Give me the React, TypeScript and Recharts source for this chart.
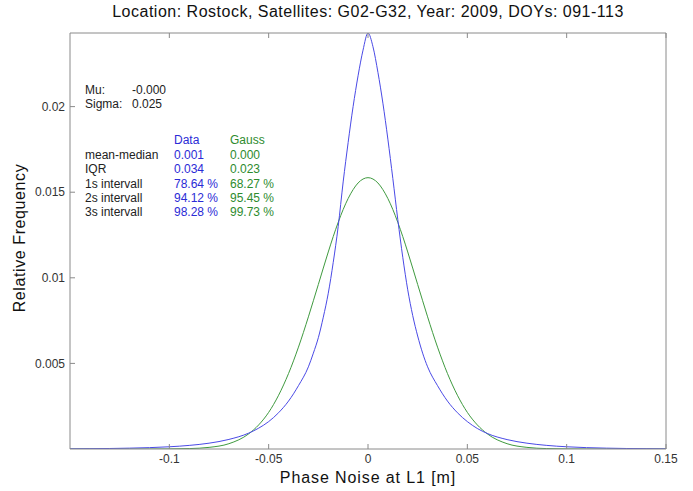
import React from "react";
import { LineChart, Line, XAxis, YAxis } from "recharts";

const xs = [
  -0.15, -0.14, -0.13, -0.12, -0.11, -0.1, -0.09, -0.08, -0.07, -0.06, -0.055,
  -0.05, -0.045, -0.04, -0.035, -0.03, -0.0275, -0.025, -0.0225, -0.02, -0.0175,
  -0.015, -0.0125, -0.01, -0.0075, -0.005, -0.0025, 0, 0.0025, 0.005, 0.0075, 0.01,
  0.0125, 0.015, 0.0175, 0.02, 0.0225, 0.025, 0.0275, 0.03, 0.035, 0.04, 0.045,
  0.05, 0.055, 0.06, 0.07, 0.08, 0.09, 0.1, 0.11, 0.12, 0.13, 0.14, 0.15,
];

const dataFreq = [
  0.00001, 0.00002, 0.00003, 0.00005, 0.00008, 0.00013, 0.00021, 0.00034, 0.00056,
  0.00093, 0.00122, 0.0016, 0.00212, 0.0028, 0.0037, 0.0048, 0.0056, 0.0065, 0.0077,
  0.0091, 0.0109, 0.013, 0.0156, 0.0179, 0.02, 0.0218, 0.0233, 0.0243, 0.0235,
  0.022, 0.0202, 0.0181, 0.0158, 0.0134, 0.0112, 0.0093, 0.0078, 0.0066, 0.0056,
  0.0048, 0.0037, 0.0028, 0.00212, 0.0016, 0.0012, 0.00091, 0.00055, 0.00034,
  0.00021, 0.00013, 0.00008, 0.00005, 0.00003, 0.00002, 0.00001,
];

const gaussFreq = [
  0, 0, 0, 0, 0, 0.000005, 0.000024, 0.000095, 0.00031, 0.00089, 0.00141, 0.00214,
  0.00314, 0.00441, 0.00595, 0.00772, 0.00866, 0.00961, 0.01057, 0.01151, 0.01241,
  0.01324, 0.01399, 0.01463, 0.01515, 0.01554, 0.01577, 0.01585, 0.01577, 0.01554,
  0.01515, 0.01463, 0.01399, 0.01324, 0.01241, 0.01151, 0.01057, 0.00961, 0.00866,
  0.00772, 0.00595, 0.00441, 0.00314, 0.00214, 0.00141, 0.00089, 0.00031, 0.000095,
  0.000024, 0.000005, 0, 0, 0, 0, 0,
];

const xTicks = [-0.1, -0.05, 0, 0.05, 0.1, 0.15];
const yTicks = [0.005, 0.01, 0.015, 0.02];

const statRows = [
  { label: "mean-median", data: "0.001", gauss: "0.000" },
  { label: "IQR", data: "0.034", gauss: "0.023" },
  { label: "1s intervall", data: "78.64 %", gauss: "68.27 %" },
  { label: "2s intervall", data: "94.12 %", gauss: "95.45 %" },
  { label: "3s intervall", data: "98.28 %", gauss: "99.73 %" },
];

const chartData = xs.map((x, i) => ({ x, data: dataFreq[i], gauss: gaussFreq[i] }));

const FONT = "'Liberation Sans', Arial, sans-serif";
const BLUE = "#2b2bd6";
const GREEN = "#2e8b2e";
const AXIS = "#8a8a8a";

const txt = (top: number, left: number, color = "#222"): React.CSSProperties => ({
  position: "absolute",
  top,
  left,
  fontSize: 12,
  lineHeight: "14px",
  color,
  whiteSpace: "nowrap",
});

const emptyTick = () => <g />;

export default function App() {
  return (
    <div
      style={{
        position: "absolute",
        left: 0,
        top: 0,
        width: 693,
        height: 491,
        background: "#fff",
        fontFamily: FONT,
      }}
    >
      <LineChart
        width={693}
        height={491}
        data={chartData}
        margin={{ top: 32, right: 26, left: 10, bottom: 12 }}
      >
        <XAxis
          dataKey="x"
          type="number"
          domain={[-0.15, 0.15]}
          ticks={xTicks}
          allowDataOverflow
          height={30}
          tickSize={-5}
          tickMargin={10}
          stroke={AXIS}
          tick={{ fontSize: 12, fill: "#333", fontFamily: FONT }}
        />
        <XAxis
          xAxisId="top"
          orientation="top"
          dataKey="x"
          type="number"
          domain={[-0.15, 0.15]}
          ticks={xTicks}
          allowDataOverflow
          height={1}
          tickSize={-5}
          stroke={AXIS}
          tick={emptyTick}
        />
        <YAxis
          type="number"
          domain={[0, 0.0243]}
          ticks={yTicks}
          allowDataOverflow
          width={60}
          tickSize={-5}
          tickMargin={10}
          stroke={AXIS}
          tick={{ fontSize: 12, fill: "#333", fontFamily: FONT }}
        />
        <YAxis
          yAxisId="right"
          orientation="right"
          type="number"
          domain={[0, 0.0243]}
          ticks={yTicks}
          width={1}
          tickSize={-5}
          stroke={AXIS}
          tick={emptyTick}
        />
        <Line
          type="monotone"
          dataKey="gauss"
          stroke="#3f9a3f"
          strokeWidth={1}
          dot={false}
          isAnimationActive={false}
        />
        <Line
          type="monotone"
          dataKey="data"
          stroke="#4a4ae6"
          strokeWidth={1}
          dot={false}
          isAnimationActive={false}
        />
      </LineChart>

      <div
        style={{
          position: "absolute",
          top: 3,
          left: 0,
          width: 736,
          textAlign: "center",
          fontSize: 16,
          letterSpacing: 0.5,
          color: "#111",
        }}
      >
        Location: Rostock, Satellites: G02-G32, Year: 2009, DOYs: 091-113
      </div>
      <div
        style={{
          position: "absolute",
          top: 469,
          left: 0,
          width: 736,
          textAlign: "center",
          fontSize: 16,
          letterSpacing: 0.9,
          color: "#111",
        }}
      >
        Phase Noise at L1 [m]
      </div>
      <div
        style={{
          position: "absolute",
          top: 238,
          left: 20,
          transform: "translate(-50%, -50%) rotate(-90deg)",
          fontSize: 16,
          letterSpacing: 0.6,
          color: "#111",
          whiteSpace: "nowrap",
        }}
      >
        Relative Frequency
      </div>

      <div style={txt(83, 85)}>Mu:</div>
      <div style={txt(83, 132)}>-0.000</div>
      <div style={txt(97, 85)}>Sigma:</div>
      <div style={txt(97, 132)}>0.025</div>

      <div style={txt(133, 174, BLUE)}>Data</div>
      <div style={txt(133, 230, GREEN)}>Gauss</div>
      {statRows.map((r, i) => (
        <React.Fragment key={r.label}>
          <div style={txt(148 + i * 14.3, 85)}>{r.label}</div>
          <div style={txt(148 + i * 14.3, 174, BLUE)}>{r.data}</div>
          <div style={txt(148 + i * 14.3, 230, GREEN)}>{r.gauss}</div>
        </React.Fragment>
      ))}
    </div>
  );
}
